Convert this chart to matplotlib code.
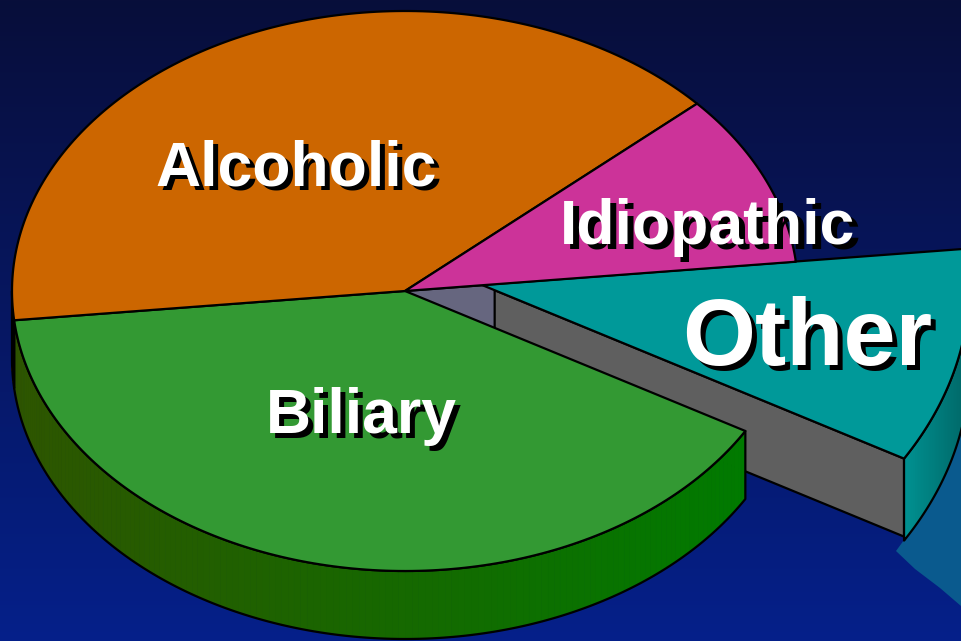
import numpy as np
import matplotlib.pyplot as plt
from matplotlib.patches import Polygon
from matplotlib.collections import PolyCollection
from matplotlib.colors import to_rgb

# slice data (counterclockwise from the start angle)
labels = ["Other", "Idiopathic", "Alcoholic", "Biliary"]
shares = [10, 10, 40, 40]
top_colors = ["#009999", "#cc3399", "#cc6600", "#339933"]
wall_colors = [("#009292", "#006666"), ("#992070", "#992070"),
               ("#8a4400", "#8a4400"), ("#2e5500", "#007a00")]
start_angle = -30.0

W, H = 961, 641
cx, cy = 405, 291          # pie centre (pixels)
rx, ry = 393, 280          # top ellipse radii
depth = 68

ex_cx, ex_cy = 482, 285    # exploded "Other" slice apex
ex_scale = 1.24
ex_depth = 82

bounds = start_angle + np.concatenate([[0], np.cumsum(shares)]) / sum(shares) * 360.0

fig = plt.figure(figsize=(W / 100, H / 100), dpi=100)
ax = fig.add_axes([0, 0, 1, 1])
ax.set_xlim(0, W)
ax.set_ylim(H, 0)
ax.axis("off")

# background gradient
c_top = np.array(to_rgb("#080e3a"))
c_bot = np.array(to_rgb("#05208a"))
t = np.linspace(0, 1, H)[:, None, None]
grad = c_top * (1 - t) + c_bot * t
ax.imshow(grad, extent=[0, W, H, 0], aspect="auto", zorder=0)

EDGE = dict(edgecolor="black", linewidth=1.6, joinstyle="round")


def pt(x0, y0, a, sx, sy, dz=0.0, r=1.0):
    a = np.radians(a)
    return x0 + r * sx * np.cos(a), y0 - r * sy * np.sin(a) + dz


def arc(x0, y0, a1, a2, sx, sy, dz=0.0, n=150):
    a = np.linspace(a1, a2, n)
    x, y = pt(x0, y0, a, sx, sy, dz)
    return np.column_stack([x, y])


def top_face(x0, y0, a1, a2, sx, sy, color, z):
    poly = np.vstack([[x0, y0], arc(x0, y0, a1, a2, sx, sy)])
    ax.add_patch(Polygon(poly, closed=True, facecolor=color, zorder=z, **EDGE))


def front_range(a1, a2):
    for lo, hi in ((180, 360), (-180, 0)):
        l, h = max(a1, lo), min(a2, hi)
        if h > l:
            return l, h
    return None


def wall(x0, y0, a1, a2, sx, sy, dz, cols, z):
    rng = front_range(a1, a2)
    if rng is None:
        return
    l, h = rng
    top = arc(x0, y0, l, h, sx, sy)
    bot = arc(x0, y0, l, h, sx, sy, dz)
    c1, c2 = np.array(to_rgb(cols[0])), np.array(to_rgb(cols[1]))
    xs = top[:, 0]
    span = xs.max() - xs.min() + 1e-9
    quads, fc = [], []
    for i in range(len(top) - 1):
        quads.append([top[i], top[i + 1], bot[i + 1], bot[i]])
        f = ((xs[i] + xs[i + 1]) / 2 - xs.min()) / span
        fc.append(c1 * (1 - f) + c2 * f)
    ax.add_collection(PolyCollection(quads, facecolors=fc, edgecolors=fc,
                                     linewidths=0.6, zorder=z))
    outline = np.vstack([top, bot[::-1]])
    ax.add_patch(Polygon(outline, closed=True, fill=False, zorder=z + 0.1, **EDGE))


def cut_face(x0, y0, a, sx, sy, dz, r0, color, z):
    xa, ya = pt(x0, y0, a, sx, sy, r=r0)
    xb, yb = pt(x0, y0, a, sx, sy)
    poly = [[xa, ya], [xb, yb], [xb, yb + dz], [xa, ya + dz]]
    ax.add_patch(Polygon(poly, closed=True, facecolor=color, zorder=z, **EDGE))


# shadow under the pulled-out slice (decoration)
shadow = np.array([[904, 540], [896, 551], [915, 569], [940, 588], [961, 606], [961, 430]])
ax.add_patch(Polygon(shadow, closed=True, facecolor="#0a5a8e", edgecolor="none", zorder=1))

# inner face left open by the pulled-out slice
cut_face(cx, cy, bounds[1], rx, ry, depth, 0.0, "#66667f", 2)

# pulled-out "Other" slice
ox, oy = rx * ex_scale, ry * ex_scale
cut_face(ex_cx, ex_cy, bounds[0], ox, oy, ex_depth - 4, 0.03, "#5f5f5f", 3)
wall(ex_cx, ex_cy, bounds[0], bounds[1], ox, oy, ex_depth, wall_colors[0], 4)
top_face(ex_cx, ex_cy, bounds[0], bounds[1], ox, oy, top_colors[0], 5)

# rest of the pie
for i in (2, 3):
    wall(cx, cy, bounds[i], bounds[i + 1], rx, ry, depth, wall_colors[i], 6)
for i in (3, 2, 1):
    top_face(cx, cy, bounds[i], bounds[i + 1], rx, ry, top_colors[i], 8)

# labels with drop shadow
label_pos = [(807, 365), (708, 244), (296, 185), (361, 433)]
label_size = [67.5, 45, 45, 45]
for name, (tx, ty), fs in zip(labels, label_pos, label_size):
    kw = dict(ha="center", va="baseline", fontsize=fs, fontweight="bold",
              family="Liberation Sans", zorder=20)
    ax.text(tx + 5, ty + 5, name, color="black", **kw)
    ax.text(tx, ty, name, color="white", **kw)

fig.savefig("out.png", dpi=100)
